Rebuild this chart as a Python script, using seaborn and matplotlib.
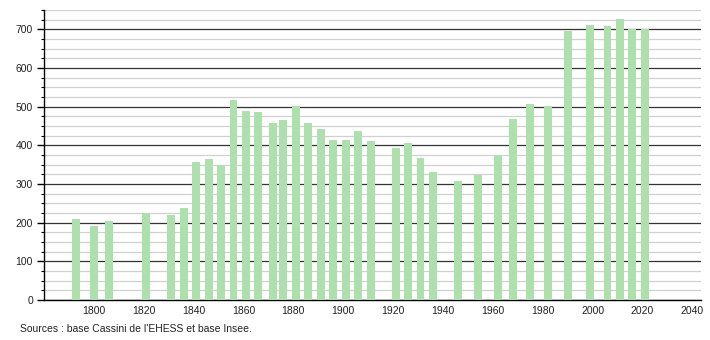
import matplotlib
matplotlib.use("Agg")
import matplotlib.pyplot as plt
import seaborn as sns
import pandas as pd
from matplotlib.ticker import MultipleLocator

years = [1793, 1800, 1806, 1821, 1831, 1836, 1841, 1846, 1851, 1856,
         1861, 1866, 1872, 1876, 1881, 1886, 1891, 1896, 1901, 1906,
         1911, 1921, 1926, 1931, 1936, 1946, 1954, 1962, 1968, 1975,
         1982, 1990, 1999, 2006, 2011, 2016, 2021]
population = [210, 192, 205, 225, 221, 239, 358, 365, 349, 516,
              490, 485, 457, 465, 503, 459, 441, 415, 415, 436,
              410, 392, 407, 366, 330, 309, 324, 375, 467, 506,
              502, 696, 711, 708, 728, 702, 701]
x_ticks = list(range(1800, 2041, 20))
y_ticks = list(range(0, 701, 100))
source_text = "Sources : base Cassini de l'EHESS et base Insee."

sns.set_theme(style="white")
plt.rcParams['font.family'] = ['Liberation Sans', 'DejaVu Sans']

df = pd.DataFrame({"year": years, "pop": population})

fig = plt.figure(figsize=(7.1, 3.4), dpi=100)
ax = fig.add_axes([44/710, 1 - 300/340, (701 - 44)/710, 290/340])

sns.barplot(data=df, x="year", y="pop", native_scale=True, color="#ade0ad",
            saturation=1, width=0.8, ax=ax, zorder=3, linewidth=0,
            edgecolor="none")

ax.set_xlim(1780, 2043.5)
ax.set_ylim(0, 750)
ax.set_xticks(x_ticks)
ax.set_xticklabels([str(t) for t in x_ticks])
ax.set_yticks(y_ticks)
ax.set_yticklabels([str(t) for t in y_ticks])
ax.yaxis.set_minor_locator(MultipleLocator(25))

ax.set_axisbelow(True)
ax.grid(which="major", axis="y", color="#333333", linewidth=0.9)
ax.grid(which="minor", axis="y", color="#d0d0d0", linewidth=0.9)
ax.grid(which="both", axis="x", visible=False)

for s in ["top", "right"]:
    ax.spines[s].set_visible(False)
for s in ["left", "bottom"]:
    ax.spines[s].set_visible(True)
    ax.spines[s].set_color("black")
    ax.spines[s].set_linewidth(1.0)

ax.tick_params(axis="y", which="major", left=True, length=5, width=1, color="black",
               labelsize=7.5, pad=3, labelcolor="#222222")
ax.tick_params(axis="y", which="minor", left=True, length=2.5, width=0.8, color="black")
ax.tick_params(axis="x", which="both", bottom=False, length=0, labelsize=7.5, pad=4,
               labelcolor="#222222")
ax.set_xlabel("")
ax.set_ylabel("")

fig.text(20/710, 1 - 329/340, source_text, fontsize=7.5, color="#222222",
         ha="left", va="center")

fig.savefig("out.png", dpi=100)
